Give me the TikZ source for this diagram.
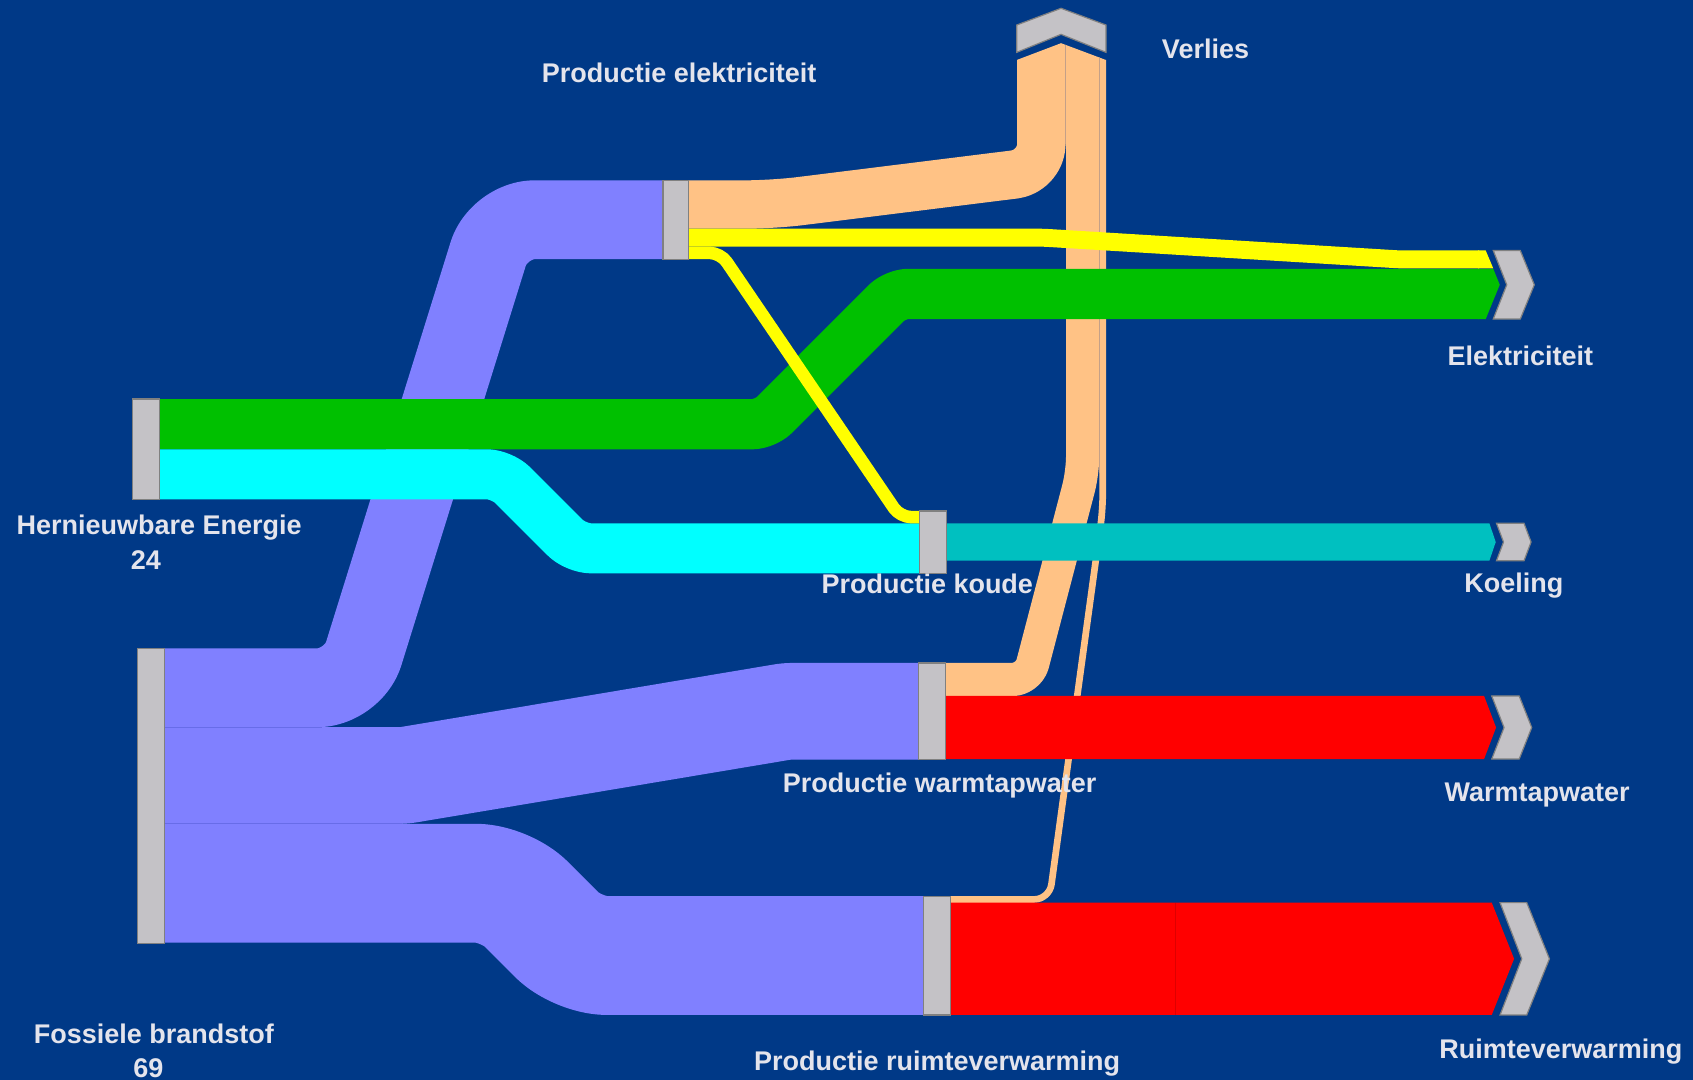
\documentclass[tikz,border=0pt]{standalone}
\usepackage{fontspec}
\setmainfont{Liberation Sans}
\definecolor{bg}{RGB}{0,57,135}
\definecolor{fossil}{RGB}{128,128,255}
\definecolor{loss}{RGB}{255,194,133}
\definecolor{elec}{RGB}{255,255,0}
\definecolor{renew}{RGB}{0,192,0}
\definecolor{cold}{RGB}{0,255,255}
\definecolor{cool}{RGB}{0,192,192}
\definecolor{heat}{RGB}{255,0,0}
\definecolor{barfill}{RGB}{196,194,198}
\definecolor{barline}{RGB}{128,128,128}
\definecolor{labeltext}{RGB}{228,228,236}
\definecolor{fossilseam}{RGB}{104,108,232}
\definecolor{lossseam}{RGB}{196,160,136}
\definecolor{heatseam}{RGB}{222,0,0}
\begin{document}
\begin{tikzpicture}[x=1pt,y=-1pt,
  flow/.style={line cap=butt, line join=round},
  barpos/.style={rectangle, inner sep=0pt, outer sep=0pt},
  barstyle/.style={draw=barline, fill=barfill, line width=1.1pt},
  chev/.style={draw=barline, fill=barfill, line width=1.1pt, line join=miter},
  lbl/.style={text=labeltext, font=\fontsize{25}{30}\selectfont\bfseries, inner sep=0pt, anchor=base},
  seam/.style={line width=0.8pt}]

\fill[bg] (0,0) rectangle (1568,1000);
\useasboundingbox (0,0) rectangle (1568,1000);

% collector bars (positions only; drawn on top at the end)
\node[barpos, minimum width=24pt, minimum height=73pt]    (pe) at (626,203.5) {};
\node[barpos, minimum width=25pt, minimum height=92.8pt]  (he) at (135,416) {};
\node[barpos, minimum width=25pt, minimum height=273pt]   (fb) at (139.5,737) {};
\node[barpos, minimum width=24.5pt, minimum height=57.7pt] (pk) at (864,502.15) {};
\node[barpos, minimum width=25pt, minimum height=89.2pt]  (pw) at (863.5,658.6) {};
\node[barpos, minimum width=25pt, minimum height=110pt]   (pr) at (867.5,885) {};

% fossil fuel streams
\draw[flow, fossil, line width=73pt, rounded corners=33pt]
  (fb.center |- 0,637) -- (327,637) -- (462,203.5) -- (pe.center |- 0,203.5);
\draw[flow, fossil, line width=89.5pt, rounded corners=4pt]
  (fb.center |- 0,718.25) -- (374,718.25) -- (729,658.75) -- (pw.center |- 0,658.75);
\draw[flow, fossil, line width=110pt, rounded corners=27pt]
  (fb.center |- 0,818) -- (468,818) -- (535,885) -- (pr.center |- 0,885);
\draw[seam, fossilseam] (fb.center |- 0,673.5) -- (298,673.5);
\draw[seam, fossilseam] (fb.center |- 0,763) -- (372,763);

% losses, gathered in the rising column
\begin{scope}
  \clip (0,0) -- (935,0) -- (935,55.6) -- (941.6,55.6) -- (982.7,40) -- (1024.4,55.6)
        -- (1030,55.6) -- (1030,0) -- (1568,0) -- (1568,1000) -- (0,1000) -- cycle;
  \draw[flow, loss, line width=44.8pt, rounded corners=25pt]
    (pe.center |- 0,189.4) -- (716,189.4) -- (964.5,158.5) -- (964.5,20);
  \draw[flow, loss, line width=30.8pt, rounded corners=15pt]
    (pw.center |- 0,629.3) -- (952.6,629.3) -- (1002.7,437.8) -- (1002.7,20);
  \draw[flow, loss, line width=6.2pt, rounded corners=14pt]
    (pr.center |- 0,833) -- (971.9,833) -- (1021.3,472) -- (1021.3,20);
  \draw[line width=0.7pt, lossseam] (987.1,20) -- (987.1,133);
  \draw[line width=0.7pt, lossseam] (1018.2,20) -- (1018.2,437.8);
\end{scope}

% renewable energy
\draw[flow, renew, line width=46.5pt, rounded corners=12pt]
  (he.center |- 0,392.9) -- (708.6,392.9) -- (829.3,272.2) -- (1370,272.2);
\fill[renew] (1369,248.95) -- (1383,248.95) -- (1389,263.75) -- (1376,295.5) -- (1369,295.5) -- cycle;
\draw[flow, cold, line width=46.3pt, rounded corners=14pt]
  (he.center |- 0,439.25) -- (464.7,439.25) -- (533.4,507.85) -- (pk.center |- 0,507.85);

% electricity
\draw[flow, elec, line width=16.6pt, rounded corners=5pt]
  (pe.center |- 0,220.1) -- (966,220.1) -- (1297,240.3) -- (1370,240.3);
\fill[elec] (1369,232) -- (1376,232) -- (1383,248.6) -- (1369,248.6) -- cycle;
\draw[flow, elec, line width=11.6pt, rounded corners=10pt]
  (pe.center |- 0,234.2) -- (667.3,234.2) -- (833.6,478.9) -- (pk.center |- 0,478.9);

% useful outputs
\fill[cool] (pk.center |- 0,484.7) -- (1379.4,484.7) -- (1385.3,502) -- (1379.4,519.3) -- (pk.center |- 0,519.3) -- cycle;
\fill[heat] (pw.center |- 0,644.6) -- (1374.5,644.6) -- (1385.6,673.8) -- (1374.5,703) -- (pw.center |- 0,703) -- cycle;
\fill[heat] (pr.center |- 0,836) -- (1381.6,836) -- (1402.3,888) -- (1381.6,940) -- (pr.center |- 0,940) -- cycle;
\draw[seam, heatseam] (1089,836) -- (1089,940);

% exit arrows
\filldraw[chev] (1383,232) -- (1408,232) -- (1421,263.75) -- (1408,295.5) -- (1383,295.5) -- (1395.5,263.75) -- cycle;
\filldraw[chev] (1386,484.7) -- (1411.5,484.7) -- (1418,502) -- (1411.5,519.3) -- (1386,519.3) -- (1392.5,502) -- cycle;
\filldraw[chev] (1381.6,644.6) -- (1407,644.6) -- (1418.6,673.8) -- (1407,703) -- (1381.6,703) -- (1393,673.8) -- cycle;
\filldraw[chev] (1389.3,836) -- (1414,836) -- (1435,888) -- (1414,940) -- (1389.3,940) -- (1409.4,888) -- cycle;
\filldraw[chev] (941.6,48.5) -- (941.6,23.2) -- (982.7,7.7) -- (1024.4,23.2) -- (1024.4,48.5) -- (982.7,31.8) -- cycle;

% collector bars
\foreach \n in {pe,he,fb,pk,pw,pr}
  \draw[barstyle] (\n.south west) rectangle (\n.north east);

% labels
\node[lbl] (l-pe) at (629,76.6)    {Productie elektriciteit};
\node[lbl] (l-vl) at (1116.5,54)   {Verlies};
\node[lbl] (l-el) at (1408,338.7)  {Elektriciteit};
\node[lbl] (l-ko) at (1402,549)    {Koeling};
\node[lbl] (l-ww) at (1423.7,742.5) {Warmtapwater};
\node[lbl] (l-rv) at (1445.6,980.2) {Ruimteverwarming};
\node[lbl] (l-he) at (147.4,494.6) {Hernieuwbare Energie};
\node[lbl] (l-hv) at (135,527)     {24};
\node[lbl] (l-fb) at (142.5,966.3) {Fossiele brandstof};
\node[lbl] (l-fv) at (137.5,997.5) {69};
\node[lbl] (l-pk) at (858.8,550)   {Productie koude};
\node[lbl] (l-pw) at (870.3,734.2) {Productie warmtapwater};
\node[lbl] (l-pr) at (868,991)     {Productie ruimteverwarming};
\end{tikzpicture}
\end{document}
